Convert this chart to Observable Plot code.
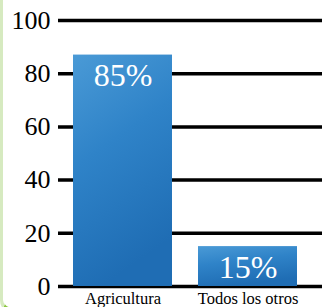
<!DOCTYPE html>
<html>
<head>
<meta charset="utf-8">
<script src="https://cdn.jsdelivr.net/npm/d3@7"></script>
<script src="https://cdn.jsdelivr.net/npm/@observablehq/plot@0.6"></script>
<style>
  html, body { margin: 0; padding: 0; background: #fff; }
  #wrap { position: relative; width: 324px; height: 307px; overflow: hidden; }
  #chart svg, #chart svg text { font-family: 'Liberation Serif', 'Times New Roman', Times, Tinos, 'Noto Serif', 'DejaVu Serif', FreeSerif, serif !important; }
  #edge { position: absolute; left: 0; top: -20px; width: 14px; height: 334px;
          border-left: 3px solid #d6eac0; border-bottom: 6px solid #8cc63f;
          border-bottom-left-radius: 16px; box-sizing: border-box; }
</style>
</head>
<body>
<div id="wrap"><div id="edge"></div><div id="chart"></div></div>
<script>
const categories = ["Agricultura", "Todos los otros"];
const values = [87, 15];
const valueLabels = ["85%", "15%"];
const yTicks = [0, 20, 40, 60, 80, 100];

const data = categories.map((c, i) => ({cat: c, value: values[i], label: valueLabels[i]}));
const serif = "'Liberation Serif', 'Times New Roman', Times, Tinos, 'Noto Serif', 'DejaVu Serif', serif";

const chart = Plot.plot({
  width: 324,
  height: 307,
  marginLeft: 58,
  marginRight: 2,
  marginTop: 20,
  marginBottom: 21,
  style: {fontFamily: serif, background: "transparent", overflow: "visible"},
  x: {domain: categories, paddingInner: 0.208, paddingOuter: 0.16, align: 0.375, label: null},
  y: {domain: [0, 100], label: null},
  marks: [
    Plot.ruleY(yTicks, {stroke: "#000", strokeWidth: 3.5}),
    Plot.axisY({ticks: yTicks, tickSize: 0, tickPadding: 8, fontSize: 26, fill: "#000", label: null, fontFamily: serif}),
    Plot.barY(data, {x: "cat", y: "value", fill: "url(#water)"}),
    Plot.text(data, {x: "cat", y: "value", text: "label", fill: "#fff", fontSize: 32, dy: 21, lineAnchor: "middle", fontFamily: serif}),
    Plot.axisX({tickSize: 0, tickPadding: 6, fontSize: 16.5, fill: "#000", label: null, fontFamily: serif})
  ]
});

const ns = "http://www.w3.org/2000/svg";
const defs = document.createElementNS(ns, "defs");
defs.innerHTML = `
  <linearGradient id="water" x1="0" y1="0" x2="0.3" y2="1">
    <stop offset="0" stop-color="#4a9ad6"/>
    <stop offset="0.45" stop-color="#2f83c8"/>
    <stop offset="1" stop-color="#1f6db4"/>
  </linearGradient>`;
chart.insertBefore(defs, chart.firstChild);
document.getElementById("chart").appendChild(chart);
</script>
</body>
</html>
